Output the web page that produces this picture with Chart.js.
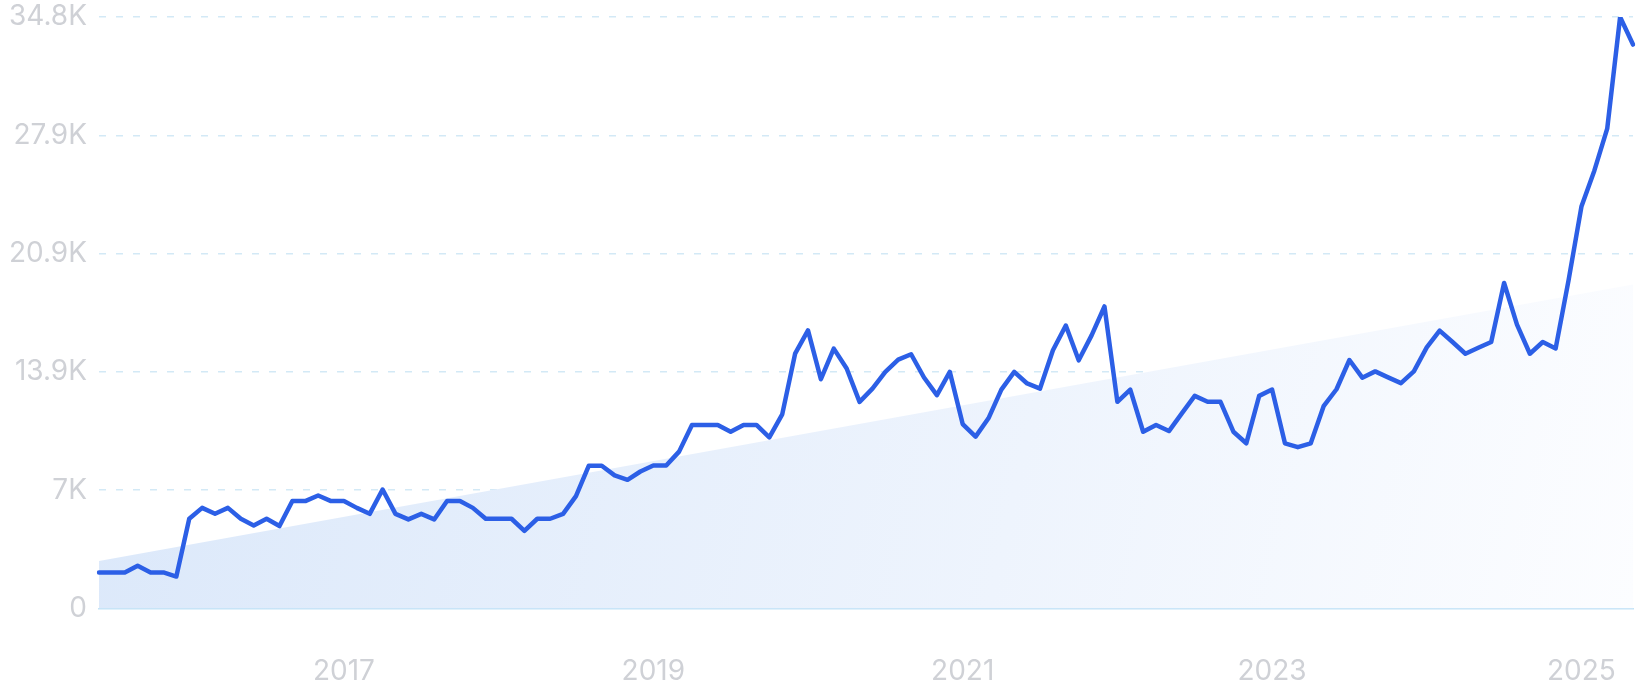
<!DOCTYPE html>
<html>
<head>
<meta charset="utf-8">
<script src="https://cdn.jsdelivr.net/npm/chart.js@4.4.1/dist/chart.umd.min.js"></script>
<style>
  html, body { margin: 0; padding: 0; background: #fff; }
  #wrap { width: 1638px; height: 700px; position: relative; }
</style>
</head>
<body>
<div id="wrap"><canvas id="chart"></canvas></div>
<script>
// monthly search volume, Jun 2015 .. May 2025
const firstYear = 2015;
const firstMonth = 6;
const months = [];
for (let i = 0; i < 120; i++) {
  const m = firstMonth - 1 + i;
  const y = firstYear + Math.floor(m / 12);
  months.push(y + "-" + String((m % 12) + 1).padStart(2, "0"));
}

const volume = [
  2120, 2120, 2120, 2510, 2120, 2120, 1880, 5280, 5920, 5570,
  5920, 5280, 4890, 5280, 4850, 6320, 6320, 6650, 6320, 6320,
  5920, 5570, 7000, 5570, 5240, 5570, 5240, 6320, 6320, 5920,
  5280, 5280, 5280, 4560, 5280, 5280, 5570, 6610, 8400, 8400,
  7830, 7570, 8060, 8410, 8410, 9230, 10800, 10800, 10800, 10400,
  10800, 10800, 10070, 11420, 14990, 16360, 13490, 15290, 14120, 12160,
  12940, 13920, 14640, 14960, 13590, 12550, 13920, 10850, 10110, 11190,
  12880, 13920, 13240, 12940, 15190, 16650, 14600, 16070, 17770, 12160,
  12880, 10400, 10800, 10440, 11480, 12510, 12160, 12160, 10400, 9720,
  12510, 12880, 9720, 9490, 9720, 11900, 12900, 14620, 13580, 13950,
  13600, 13260, 13950, 15360, 16350, 15680, 14990, 15340, 15680, 19150,
  16700, 14990, 15680, 15300, 19300, 23650, 25760, 28230, 34800, 33180
];

// straight trend band: value at first and last month
const trendStart = 2800;
const trendEnd = 19060;
const trend = months.map((_, i) => (i === 0 ? trendStart : i === months.length - 1 ? trendEnd : null));

const yearTicks = ["2017", "2019", "2021", "2023", "2025"];
const yTickLabels = ["0", "7K", "13.9K", "20.9K", "27.9K", "34.8K"];

const trendFill = (ctx) => {
  const area = ctx.chart.chartArea;
  if (!area) return "rgba(221,234,251,1)";
  const g = ctx.chart.ctx.createLinearGradient(area.left, area.top + 250, area.right, area.bottom);
  g.addColorStop(0, "#dbe8fa");
  g.addColorStop(0.6, "#eef4fd");
  g.addColorStop(1, "#fcfdff");
  return g;
};

new Chart(document.getElementById("chart"), {
  type: "line",
  data: {
    labels: months,
    datasets: [
      {
        data: volume,
        borderColor: "#2c5fe6",
        borderWidth: 4.5,
        borderCapStyle: "round",
        borderJoinStyle: "round",
        pointRadius: 0,
        tension: 0,
        fill: false,
        order: 0,
      },
      {
        data: trend,
        spanGaps: true,
        borderWidth: 0,
        borderColor: "rgba(0,0,0,0)",
        backgroundColor: trendFill,
        pointRadius: 0,
        fill: "origin",
        order: 1,
      },
    ],
  },
  options: {
    responsive: true,
    maintainAspectRatio: false,
    devicePixelRatio: 1,
    animation: false,
    layout: { padding: { right: 5, top: 17, left: 0, bottom: 0 } },
    plugins: { legend: { display: false }, tooltip: { enabled: false } },
    scales: {
      x: {
        grid: { display: false, drawTicks: false },
        border: { display: true, color: "#c4e3f7", width: 1.5 },
        ticks: {
          autoSkip: false,
          maxRotation: 0,
          padding: 46,
          color: "#cfd1d6",
          font: { family: "Inter", size: 28 },
          callback: function (value) {
            const lab = this.getLabelForValue(value);
            const yr = lab.slice(0, 4);
            return lab.endsWith("-01") && yearTicks.includes(yr) ? yr : "";
          },
        },
        afterFit: (scale) => {
          scale.height = 91.5;
          scale.paddingLeft = 0;
          scale.paddingRight = 0;
        },
      },
      y: {
        min: 0,
        max: 34800,
        grid: {
          drawTicks: false,
          lineWidth: 1.5,
          color: (ctx) => (ctx.tick && ctx.tick.value === 0 ? "rgba(0,0,0,0)" : "#d3e9f6"),
        },
        border: { display: false, dash: [7, 10] },
        ticks: {
          stepSize: 6960,
          padding: 12,
          color: "#cfd1d6",
          font: { family: "Inter", size: 28 },
          callback: (value, index) => yTickLabels[index],
        },
        afterFit: (scale) => {
          scale.width = 99;
          scale.paddingTop = 0;
          scale.paddingBottom = 0;
        },
      },
    },
  },
});
</script>
</body>
</html>
